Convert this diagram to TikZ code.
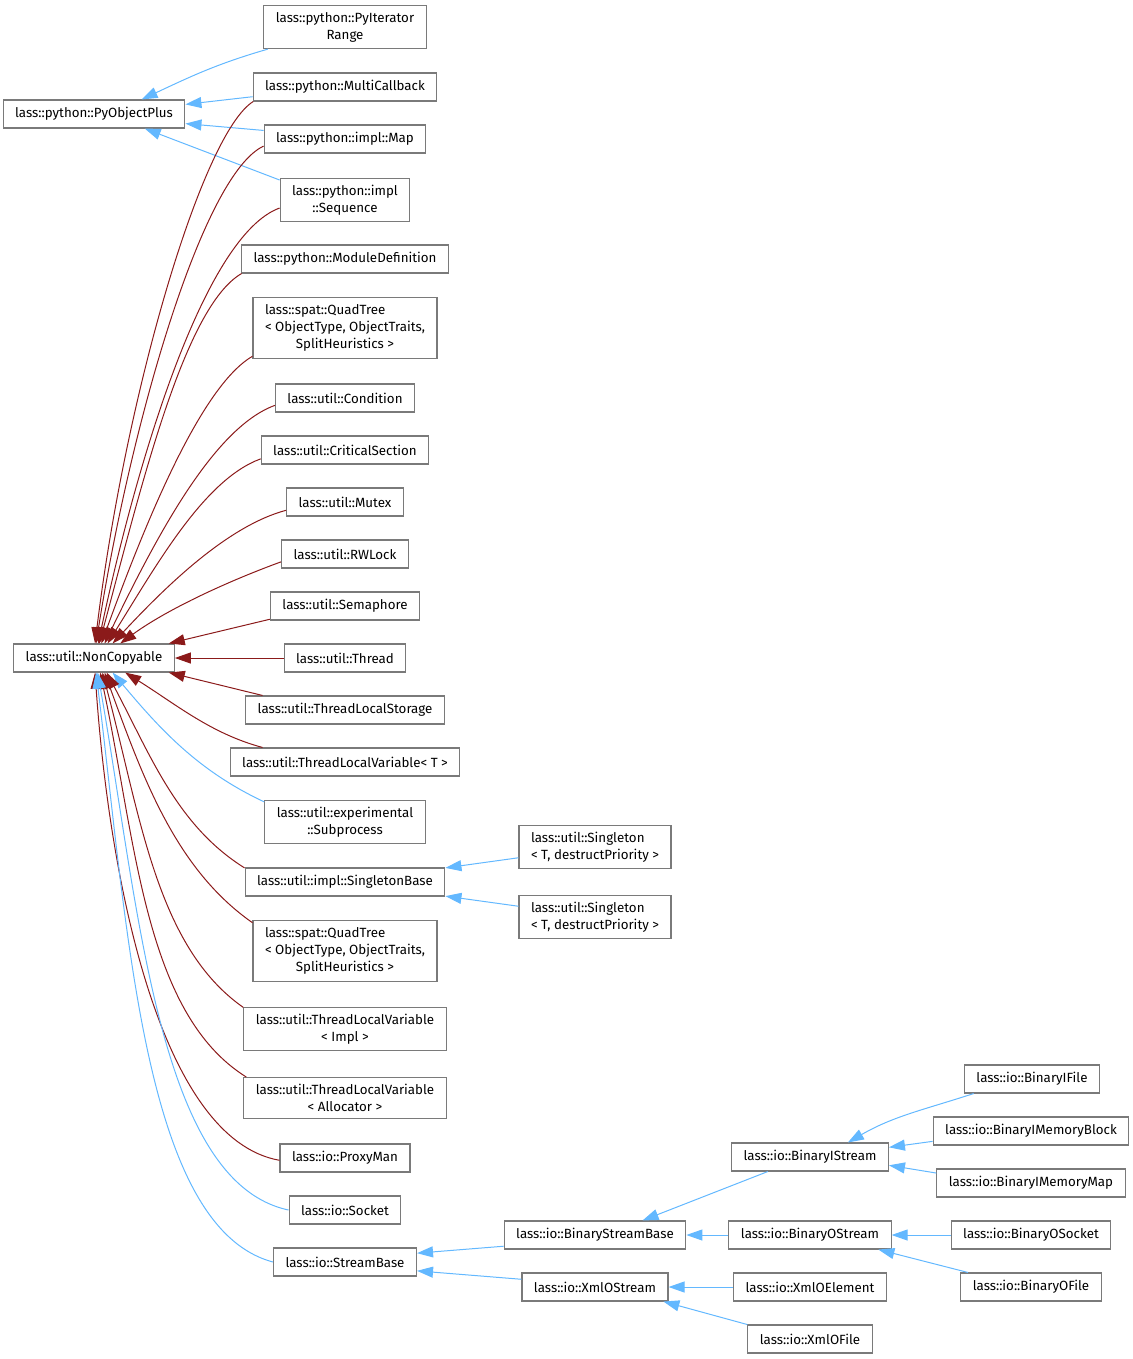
\documentclass[tikz,border=0pt]{standalone}
\usepackage{fontspec}
\setmainfont{Fira Sans}
\usepackage{tikz}
\definecolor{pubblue}{HTML}{63B8FF}
\definecolor{privred}{HTML}{8B1A1A}
\definecolor{boxgray}{HTML}{7A7A7A}
\newcommand{\qtlabel}{\rlap{lass::spat::QuadTree}\phantom{< ObjectType, ObjectTraits,}\\< ObjectType, ObjectTraits,\\SplitHeuristics >}
\usetikzlibrary{arrows.meta}

\begin{document}
\begin{tikzpicture}[x=0.75pt,y=0.75pt,
    cls/.style={draw=boxgray,line width=0.8pt,fill=white,font=\fontsize{10}{12.75}\selectfont,
      inner xsep=9pt,inner ysep=5pt,minimum height=21pt,align=center},
    pub/.style={pubblue,line width=0.75pt,<-},
    priv/.style={privred,line width=0.75pt,<-},
    >={Triangle[length=12pt,width=8.25pt]}]
      \useasboundingbox (0,0) rectangle (1132,-1359);
      \node[cls] (POP) at (94,-114) {lass::python::PyObjectPlus};
      \node[cls] (NC) at (94,-658) {lass::util::NonCopyable};
      \node[cls] (PIR) at (345,-27) {lass::python::PyIterator\\Range};
      \node[cls] (MCB) at (345,-87) {lass::python::MultiCallback};
      \node[cls] (MAP) at (345,-139) {lass::python::impl::Map};
      \node[cls] (SEQ) at (345,-200) {lass::python::impl\\::Sequence};
      \node[cls] (MOD) at (345,-259) {lass::python::ModuleDefinition};
      \node[cls] (QTa) at (345,-328) {\qtlabel};
      \node[cls] (COND) at (345,-398) {lass::util::Condition};
      \node[cls] (CS) at (345,-450) {lass::util::CriticalSection};
      \node[cls] (MTX) at (345,-502) {lass::util::Mutex};
      \node[cls] (RWL) at (345,-554) {lass::util::RWLock};
      \node[cls] (SEM) at (345,-606) {lass::util::Semaphore};
      \node[cls] (THR) at (345,-658) {lass::util::Thread};
      \node[cls] (TLS) at (345,-710) {lass::util::ThreadLocalStorage};
      \node[cls] (TLVT) at (345,-762) {lass::util::ThreadLocalVariable< T >};
      \node[cls] (SUB) at (345,-822) {lass::util::experimental\\::Subprocess};
      \node[cls] (SB) at (345,-882) {lass::util::impl::SingletonBase};
      \node[cls] (QTb) at (345,-951) {\qtlabel};
      \node[cls] (TLVI) at (345,-1029) {lass::util::ThreadLocalVariable\\< Impl >};
      \node[cls] (TLVA) at (345,-1098) {lass::util::ThreadLocalVariable\\< Allocator >};
      \node[cls] (PM) at (345,-1158) {lass::io::ProxyMan};
      \node[cls] (SOCK) at (345,-1210) {lass::io::Socket};
      \node[cls] (STRB) at (345,-1262) {lass::io::StreamBase};
      \node[cls,align=left] (SGa) at (595,-847) {lass::util::Singleton\\< T, destructPriority >};
      \node[cls,align=left] (SGb) at (595,-917) {lass::util::Singleton\\< T, destructPriority >};
      \node[cls] (BSB) at (595,-1235) {lass::io::BinaryStreamBase};
      \node[cls] (XOS) at (595,-1287) {lass::io::XmlOStream};
      \node[cls] (BIS) at (810,-1157) {lass::io::BinaryIStream};
      \node[cls] (BOS) at (810,-1235) {lass::io::BinaryOStream};
      \node[cls] (XOE) at (810,-1287) {lass::io::XmlOElement};
      \node[cls] (XOF) at (810,-1339) {lass::io::XmlOFile};
      \node[cls] (BIF) at (1032,-1079) {lass::io::BinaryIFile};
      \node[cls] (BIMB) at (1031,-1131) {lass::io::BinaryIMemoryBlock};
      \node[cls] (BIMM) at (1031,-1183) {lass::io::BinaryIMemoryMap};
      \node[cls] (BOSK) at (1031,-1235) {lass::io::BinaryOSocket};
      \node[cls] (BOF) at (1031,-1287) {lass::io::BinaryOFile};
      \path[pub] (POP.17) edge[out=25,in=196] (PIR.196);
      \path[pub] (POP.6) edge (MCB.186);
      \path[pub] (POP.354) edge (MAP.174);
      \path[pub] (POP.344) edge (SEQ.163);
      \path[priv] (NC.86) edge[out=83,in=212,out distance=190pt,in distance=45pt] (MCB.189);
      \path[priv] (NC.82) edge[out=81,in=205,out distance=170pt,in distance=50pt] (MAP.185);
      \path[priv] (NC.74) edge[out=78,in=200,out distance=140pt,in distance=60pt] (SEQ.187);
      \path[priv] (NC.70) edge[out=75,in=210,out distance=120pt,in distance=50pt] (MOD.188);
      \path[priv] (NC.63) edge[out=70,in=210,out distance=95pt,in distance=45pt] (QTa.197);
      \path[priv] (NC.54) edge[out=64,in=200,out distance=85pt,in distance=50pt] (COND.186);
      \path[priv] (NC.47) edge[out=58,in=200,out distance=70pt,in distance=45pt] (CS.186);
      \path[priv] (NC.38) edge[out=47,in=195,out distance=60pt,in distance=45pt] (MTX.188);
      \path[priv] (NC.29) edge[out=36,in=200,out distance=45pt,in distance=40pt] (RWL.187);
      \path[priv] (NC.11) edge (SEM.190);
      \path[priv] (NC.east) edge (THR.west);
      \path[priv] (NC.349) edge (TLS.170);
      \path[priv] (NC.335) edge[out=-32,in=165,out distance=45pt,in distance=40pt] (TLVT.170);
      \path[pub] (NC.322) edge[out=-50,in=155,out distance=55pt,in distance=55pt] (SUB.166);
      \path[priv] (NC.311) edge[out=-62,in=148,out distance=70pt,in distance=60pt] (SB.172);
      \path[priv] (NC.306) edge[out=-70,in=145,out distance=85pt,in distance=70pt] (QTb.163);
      \path[priv] (NC.300) edge[out=-75,in=145,out distance=110pt,in distance=80pt] (TLVI.168);
      \path[priv] (NC.293) edge[out=-78,in=148,out distance=130pt,in distance=90pt] (TLVA.168);
      \path[priv] (NC.274) edge[out=-86,in=170,out distance=160pt,in distance=90pt] (PM.182);
      \path[pub] (NC.284) edge[out=-80,in=168,out distance=180pt,in distance=100pt] (SOCK.west);
      \path[pub] (NC.278) edge[out=-83,in=165,out distance=200pt,in distance=100pt] (STRB.west);
      \path[pub] (SB.8) edge (SGa.188);
      \path[pub] (SB.352) edge (SGb.172);
      \path[pub] (STRB.7) edge (BSB.187);
      \path[pub] (STRB.353) edge (XOS.174);
      \path[pub] (BSB.17) edge (BIS.199);
      \path[pub] (BSB.east) edge (BOS.west);
      \path[pub] (XOS.east) edge (XOE.west);
      \path[pub] (XOS.348) edge (XOF.167);
      \path[pub] (BIS.21) edge[out=30,in=198] (BIF.194);
      \path[pub] (BIS.7) edge (BIMB.186);
      \path[pub] (BIS.354) edge (BIMM.174);
      \path[pub] (BOS.east) edge (BOSK.west);
      \path[pub] (BOS.348) edge (BOF.167);
    \end{tikzpicture}
\end{document}
